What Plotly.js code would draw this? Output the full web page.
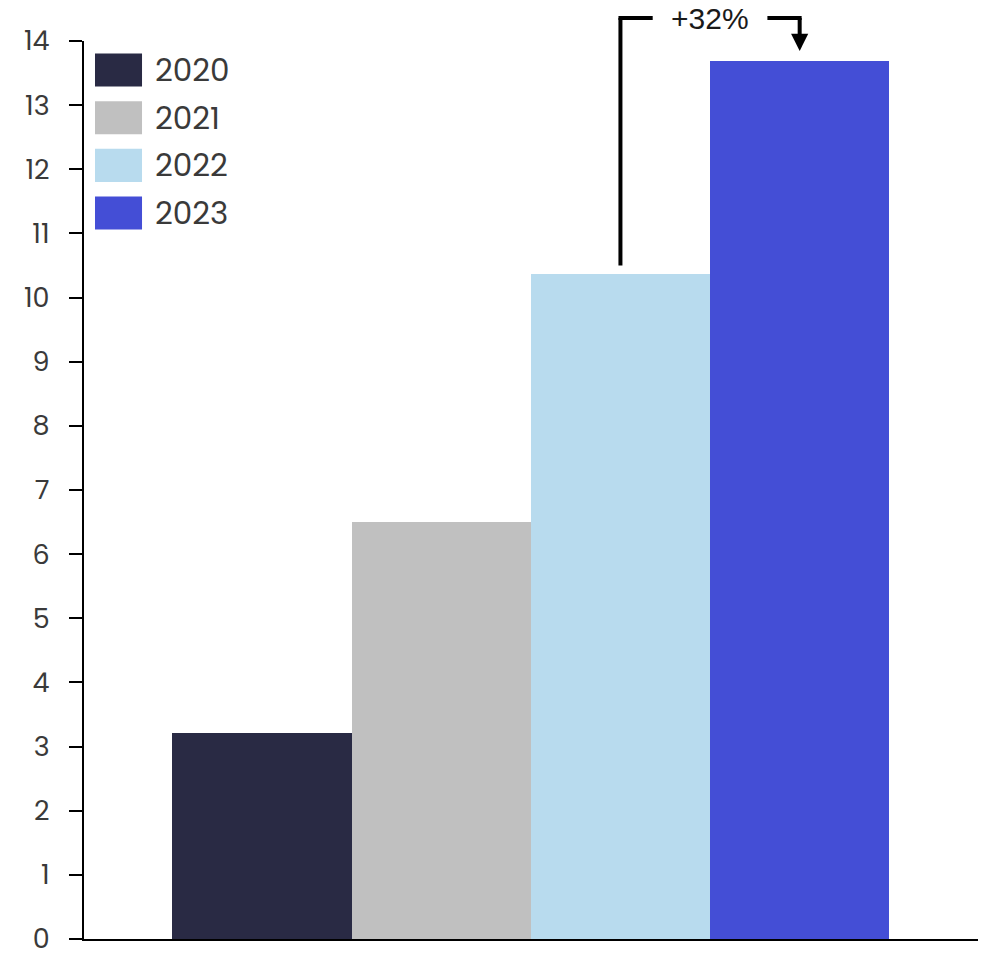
<!DOCTYPE html>
<html>
<head>
<meta charset="utf-8">
<script src="https://cdn.plot.ly/plotly-3.0.1.min.js"></script>
<style>html,body{margin:0;padding:0;background:#fff;overflow:hidden;}#chart{width:992px;height:959px;}</style>
</head>
<body>
<div id="chart"></div>
<script>
// Data
var years = ['2020', '2021', '2022', '2023'];
var values = [3.21, 6.5, 10.37, 13.69];
var colors = ['#292a44', '#c0c0c0', '#b8dbee', '#444ed6'];
var yTicks = [0,1,2,3,4,5,6,7,8,9,10,11,12,13,14];

var FONT = 'Poppins, Lato, "DejaVu Sans", sans-serif';
var ARIAL = 'Arial, "Liberation Sans", sans-serif';
var YMAX = 14;

var traces = years.map(function (yr, i) {
  return {
    type: 'bar',
    name: yr,
    x: [i],
    y: [values[i]],
    width: 1,
    marker: { color: colors[i], line: { width: 0 } },
    showlegend: false,
    hoverinfo: 'name+y'
  };
});

var shapes = [];
var annotations = [];

// Custom legend (large swatches)
var legX0 = 0.0123, legX1 = 0.0649, legTextX = 0.0772;
var legY0 = 0.9677, legStep = 0.0531, legHalf = 0.0184;
years.forEach(function (yr, i) {
  var yc = legY0 - i * legStep;
  shapes.push({
    type: 'rect', xref: 'paper', yref: 'paper',
    x0: legX0, x1: legX1, y0: yc - legHalf, y1: yc + legHalf,
    fillcolor: colors[i], line: { width: 0 }
  });
  annotations.push({
    xref: 'paper', yref: 'paper', x: legTextX, y: yc,
    xanchor: 'left', yanchor: 'middle', showarrow: false,
    text: yr, font: { family: FONT, size: 31, color: '#3a3a3a' }
  });
});

// Growth bracket between last two bars
var i0 = 2, i1 = 3;
var topP = 1.0256;
var startP = (values[i0] + 0.13) / YMAX;
var tipP = 0.989;
var lineStyle = { color: '#000', width: 4 };
shapes.push({ type: 'line', xref: 'x', yref: 'paper', x0: i0, x1: i0, y0: startP, y1: topP, line: lineStyle });
shapes.push({ type: 'line', xref: 'x', yref: 'paper', x0: i0 - 0.011, x1: i0 + 0.18, y0: topP, y1: topP, line: lineStyle });
shapes.push({ type: 'line', xref: 'x', yref: 'paper', x0: i1 - 0.18, x1: i1 + 0.011, y0: topP, y1: topP, line: lineStyle });
shapes.push({ type: 'line', xref: 'x', yref: 'paper', x0: i1, x1: i1, y0: topP, y1: tipP + 0.015, line: lineStyle });
shapes.push({
  type: 'path', xref: 'x', yref: 'paper',
  path: 'M ' + (i1 - 0.048) + ' ' + (tipP + 0.019) + ' L ' + (i1 + 0.048) + ' ' + (tipP + 0.019) + ' L ' + i1 + ' ' + tipP + ' Z',
  fillcolor: '#000', line: { width: 0 }
});
var pct = Math.round((values[i1] / values[i0] - 1) * 100);
annotations.push({
  xref: 'x', yref: 'paper', x: (i0 + i1) / 2, y: topP,
  xanchor: 'center', yanchor: 'middle', showarrow: false,
  text: '+' + pct + '%', font: { family: ARIAL, size: 30, color: '#1a1a1a' }
});

var layout = {
  width: 992, height: 959,
  margin: { l: 84, r: 14, t: 41, b: 20 },
  paper_bgcolor: '#fff', plot_bgcolor: '#fff',
  barmode: 'overlay', bargap: 0,
  showlegend: false,
  xaxis: {
    range: [-0.993, 3.995],
    showticklabels: false, ticks: '', showgrid: false, zeroline: false,
    showline: true, linecolor: '#000', linewidth: 2, fixedrange: true
  },
  yaxis: {
    range: [0, YMAX], tickvals: yTicks, ticktext: yTicks.map(String),
    ticks: 'outside', ticklen: 13, tickwidth: 2, tickcolor: '#000',
    showline: true, linecolor: '#000', linewidth: 2,
    showgrid: false, zeroline: false, ticklabelstandoff: 14,
    tickfont: { family: FONT, size: 27, color: '#3a3a3a' }, fixedrange: true
  },
  shapes: shapes,
  annotations: annotations
};

Plotly.newPlot('chart', traces, layout, { displayModeBar: false, staticPlot: true });
</script>
</body>
</html>
